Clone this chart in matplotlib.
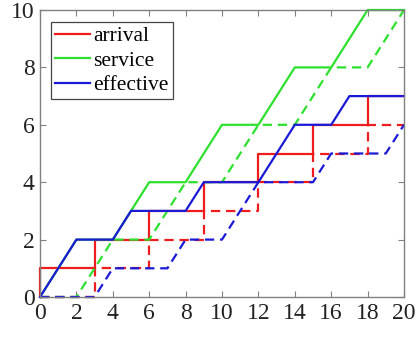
import matplotlib
matplotlib.use("Agg")
import matplotlib.pyplot as plt

plt.rcParams['font.family'] = ['Liberation Serif', 'DejaVu Serif']

# ---- data ----
arrival_t = [0, 0, 3, 3, 6, 6, 9, 9, 12, 12, 15, 15, 18, 18, 20]
arrival_v = [0, 1, 1, 2, 2, 3, 3, 4, 4, 5, 5, 6, 6, 7, 7]
arrival_shift_t = [0, 3, 3, 6, 6, 9, 9, 12, 12, 15, 15, 18, 18, 20]
arrival_shift_v = [0, 0, 1, 1, 2, 2, 3, 3, 4, 4, 5, 5, 6, 6]

service_t = [0, 2, 4, 6, 8, 10, 12, 14, 16, 18, 20]
service_v = [0, 2, 2, 4, 4, 6, 6, 8, 8, 10, 10]
service_shift_v = [0, 0, 2, 2, 4, 4, 6, 6, 8, 8, 10]

effective_t = [0, 2, 4, 5, 8, 9, 12, 14, 16, 17, 20]
effective_v = [0, 2, 2, 3, 3, 4, 4, 6, 6, 7, 7]
effective_shift_t = [0, 3, 4, 7, 8, 10, 12, 15, 16, 19, 20]
effective_shift_v = [0, 0, 1, 1, 2, 2, 4, 4, 5, 5, 6]

labels = ["arrival", "service", "effective"]
x_ticks = [0, 2, 4, 6, 8, 10, 12, 14, 16, 18, 20]
y_ticks = [0, 2, 4, 6, 8, 10]

RED = '#ee1c1c'
GREEN = '#2ee02e'
BLUE = '#1a1ad6'

fig = plt.figure(figsize=(4.18, 3.38), dpi=100)
ax = fig.add_axes([40 / 418, 1 - 297 / 338, 364 / 418, 287 / 338])

lw = 1.6
dash = (4.2, 2.6)

h1, = ax.plot(arrival_t, arrival_v, color=RED, lw=lw, clip_on=False, zorder=2)
ax.plot(arrival_shift_t, arrival_shift_v, color=RED, lw=lw, dashes=dash, clip_on=False, zorder=2.1)
h2, = ax.plot(service_t, service_v, color=GREEN, lw=lw, clip_on=False, zorder=2.2)
ax.plot(service_t, service_shift_v, color=GREEN, lw=lw, dashes=dash, clip_on=False, zorder=2.3)
h3, = ax.plot(effective_t, effective_v, color=BLUE, lw=lw, clip_on=False, zorder=2.4)
ax.plot(effective_shift_t, effective_shift_v, color=BLUE, lw=lw, dashes=dash, clip_on=False, zorder=2.5)

ax.set_xlim(0, 20)
ax.set_ylim(0, 10)
ax.set_xticks(x_ticks)
ax.set_yticks(y_ticks)

spine_col = '#808080'
for s in ax.spines.values():
    s.set_color(spine_col)
    s.set_linewidth(1.0)
ax.tick_params(direction='in', length=4, width=0.8, color=spine_col,
               top=True, right=True, labelsize=17, labelcolor='#222222', pad=4)

leg = ax.legend([h1, h2, h3], labels, loc='upper left',
                bbox_to_anchor=(0.030, 0.958), borderaxespad=0,
                fontsize=15.5, handlelength=1.6, handletextpad=0.15,
                labelspacing=0.2, borderpad=0.2, fancybox=False,
                framealpha=1, edgecolor='#444444')
leg.get_frame().set_linewidth(0.9)

fig.savefig("out.png", dpi=100)
